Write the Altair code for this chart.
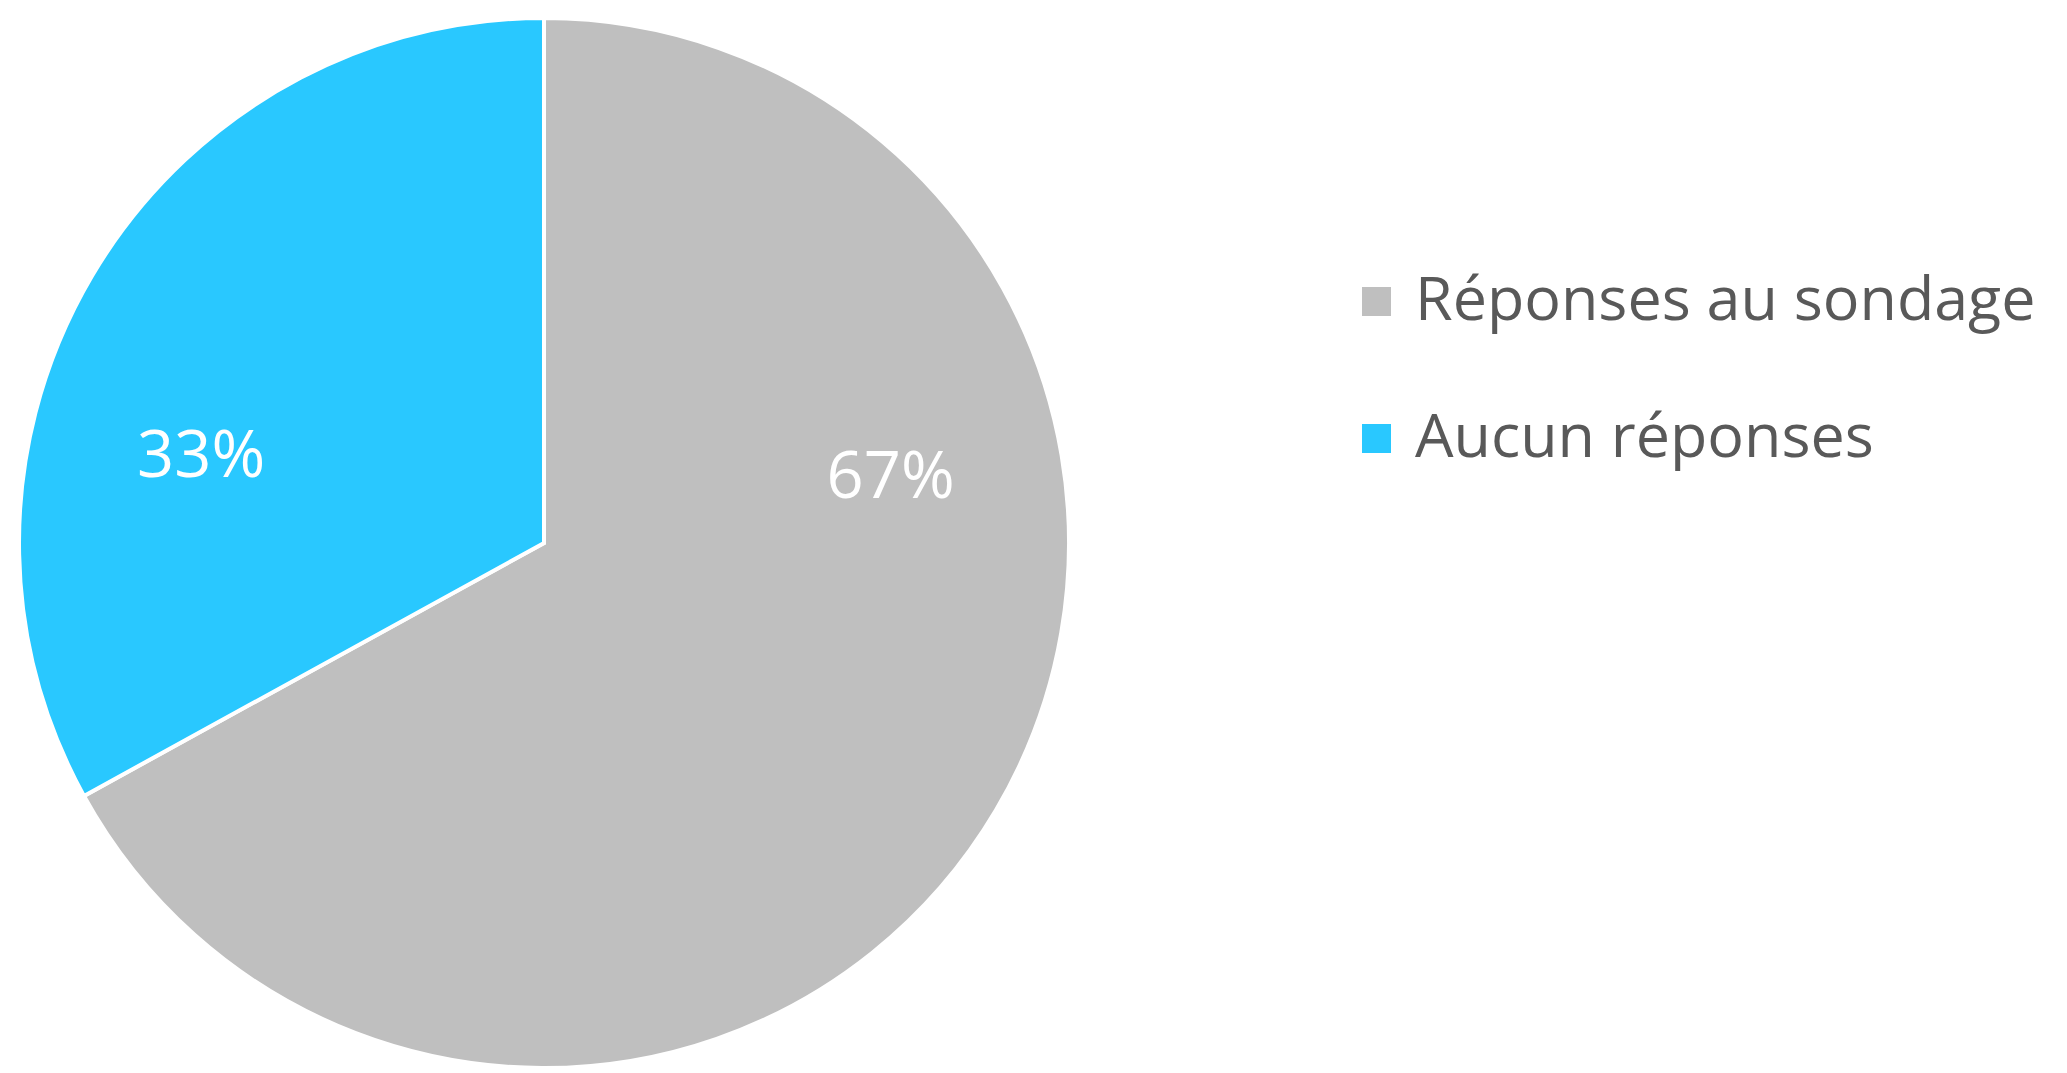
import altair as alt
import pandas as pd

categories = ["Réponses au sondage", "Aucun réponses"]
values = [67, 33]
order = [0, 1]
colors = ["#BFBFBF", "#29C8FF"]

df = pd.DataFrame({"categorie": categories, "valeur": values, "ordre": order})

base = alt.Chart(df)

arc = base.mark_arc(outerRadius=525, stroke="white", strokeWidth=4).encode(
    theta=alt.Theta("valeur:Q", stack=True),
    order=alt.Order("ordre:Q"),
    color=alt.Color(
        "categorie:N",
        scale=alt.Scale(domain=categories, range=colors),
        legend=alt.Legend(
            title=None,
            orient="none",
            legendX=1338,
            legendY=251,
            symbolType="square",
            symbolSize=841,
            symbolStrokeWidth=0,
            labelFont="Open Sans",
            labelFontSize=61,
            labelColor="#595959",
            labelLimit=0,
            labelOffset=8,
            rowPadding=75,
            padding=0,
        ),
    ),
)

labels = (
    base.transform_joinaggregate(total="sum(valeur)")
    .transform_window(
        cum="sum(valeur)", sort=[alt.SortField("ordre")], frame=[None, 0]
    )
    .transform_calculate(
        label_theta="2*PI*((datum.cum - datum.valeur) + 0.34*datum.valeur)/datum.total",
        pct="format(datum.valeur/datum.total, '.0%')",
    )
    .mark_text(
        radius=350,
        dy=-16,
        font="Open Sans",
        fontSize=65,
        color="white",
        align="center",
        baseline="middle",
    )
    .encode(
        theta=alt.Theta("label_theta:Q", scale=None, stack=False),
        text="pct:N",
    )
)

chart = (
    alt.layer(arc, labels)
    .properties(
        width=1072,
        height=1046,
        padding={"left": 0, "top": 12, "right": 975, "bottom": 0},
        autosize=alt.AutoSizeParams(type="none"),
    )
    .configure_view(stroke=None)
)

chart.save("out.html", embed_options={"renderer": "svg", "actions": False})
